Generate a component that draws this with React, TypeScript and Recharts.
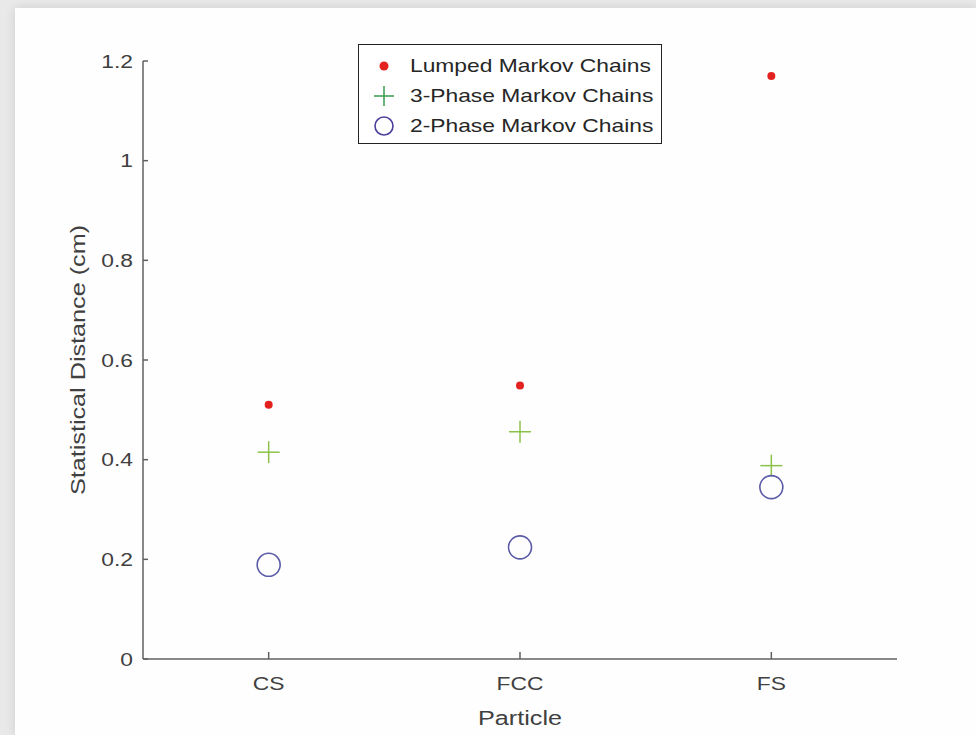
import { ScatterChart, Scatter, XAxis, YAxis, Legend } from 'recharts';

const particles = ['CS', 'FCC', 'FS'];
const lumped = [0.51, 0.549, 1.17];
const threePhase = [0.415, 0.456, 0.388];
const twoPhase = [0.189, 0.224, 0.345];
const yTicks = [0, 0.2, 0.4, 0.6, 0.8, 1, 1.2];

const toPoints = (vals: number[]) => vals.map((v, i) => ({ x: i + 1, y: v }));

const FONT = '"Liberation Sans", Arial, Helvetica, sans-serif';
const TEXT = '#404040';
const AXIS = '#606060';
// the original's Helvetica renders a bit wider than Liberation Sans
const WIDEN = 1.2;

const RedDot = (p: any) => <circle cx={p.cx} cy={p.cy} r={4} fill="#e3211f" />;
const Plus = (p: any) => (
  <g stroke="#8cc24a" strokeWidth={1.5}>
    <line x1={p.cx - 11} x2={p.cx + 11} y1={p.cy} y2={p.cy} />
    <line x1={p.cx} x2={p.cx} y1={p.cy - 11} y2={p.cy + 11} />
  </g>
);
const Ring = (p: any) => (
  <circle cx={p.cx} cy={p.cy} r={11.5} fill="none" stroke="#5b5ba8" strokeWidth={1.6} />
);

const WideText = ({ x, y, anchor, size, rotate = 0, children }: any) => (
  <g transform={`translate(${x},${y}) rotate(${rotate})`}>
    <text
      transform={`scale(${WIDEN},1)`}
      textAnchor={anchor}
      dominantBaseline="central"
      fill={TEXT}
      fontSize={size}
      fontFamily={FONT}
    >
      {children}
    </text>
  </g>
);

const XTick = (p: any) => (
  <WideText x={p.x} y={p.y} anchor="middle" size={19}>
    {particles[p.payload.value - 1]}
  </WideText>
);
const YTick = (p: any) => (
  <WideText x={p.x} y={p.y} anchor="end" size={19}>
    {String(p.payload.value)}
  </WideText>
);
const XLabel = (p: any) => (
  <WideText x={p.viewBox.x + p.viewBox.width / 2} y={p.viewBox.y + 59} anchor="middle" size={21}>
    Particle
  </WideText>
);
const YLabel = (p: any) => (
  <WideText x={78} y={p.viewBox.y + p.viewBox.height / 2} anchor="middle" size={21} rotate={-90}>
    Statistical Distance (cm)
  </WideText>
);

const legendRows = [
  { name: 'Lumped Markov Chains', icon: <circle cx={12} cy={12} r={4.5} fill="#e3211f" /> },
  {
    name: '3-Phase Markov Chains',
    icon: (
      <g stroke="#3a9a4e" strokeWidth={1.5}>
        <line x1={2} x2={22} y1={12} y2={12} />
        <line x1={12} x2={12} y1={2} y2={22} />
      </g>
    ),
  },
  { name: '2-Phase Markov Chains', icon: <circle cx={12} cy={12} r={9} fill="none" stroke="#4a3f9a" strokeWidth={1.6} /> },
];

const LegendBox = () => (
  <div
    style={{
      border: '1.5px solid #222',
      background: '#fff',
      width: 304,
      height: 100,
      boxSizing: 'border-box',
      padding: '6px 0 0 13px',
      fontFamily: FONT,
      fontSize: 19,
      color: '#262626',
    }}
  >
    {legendRows.map((r) => (
      <div key={r.name} style={{ display: 'flex', alignItems: 'center', height: 30 }}>
        <svg width={24} height={24} style={{ marginRight: 14 }}>
          {r.icon}
        </svg>
        <span style={{ display: 'inline-block', transform: `scaleX(${WIDEN})`, transformOrigin: 'left center', whiteSpace: 'nowrap' }}>
          {r.name}
        </span>
      </div>
    ))}
  </div>
);

export default function App() {
  return (
    <div style={{ position: 'fixed', left: 0, top: 0, width: 976, height: 735, background: '#e9e9e9' }}>
      <div
        style={{
          position: 'absolute',
          left: 15,
          top: 8,
          width: 961,
          height: 727,
          background: '#fefefe',
          boxShadow: '0 0 10px rgba(0,0,0,0.12)',
        }}
      />
      <div style={{ position: 'absolute', left: 0, top: 0 }}>
        <ScatterChart width={976} height={735} margin={{ top: 61, right: 79, left: 0, bottom: 0 }}>
          <XAxis
            type="number"
            dataKey="x"
            domain={[0.5, 3.5]}
            ticks={[1, 2, 3]}
            height={76}
            stroke={AXIS}
            strokeWidth={1.5}
            tickSize={-7}
            tickMargin={31}
            tick={<XTick />}
            label={<XLabel />}
          />
          <YAxis
            type="number"
            dataKey="y"
            domain={[0, 1.2]}
            ticks={yTicks}
            width={143}
            stroke={AXIS}
            strokeWidth={1.5}
            tickSize={-5}
            tickMargin={15}
            tick={<YTick />}
            label={<YLabel />}
          />
          <Legend
            content={<LegendBox />}
            layout="vertical"
            align="center"
            verticalAlign="middle"
            wrapperStyle={{ left: 358, top: 44, width: 304 }}
          />
          <Scatter name="Lumped Markov Chains" data={toPoints(lumped)} shape={RedDot} isAnimationActive={false} />
          <Scatter name="3-Phase Markov Chains" data={toPoints(threePhase)} shape={Plus} isAnimationActive={false} />
          <Scatter name="2-Phase Markov Chains" data={toPoints(twoPhase)} shape={Ring} isAnimationActive={false} />
        </ScatterChart>
      </div>
    </div>
  );
}
